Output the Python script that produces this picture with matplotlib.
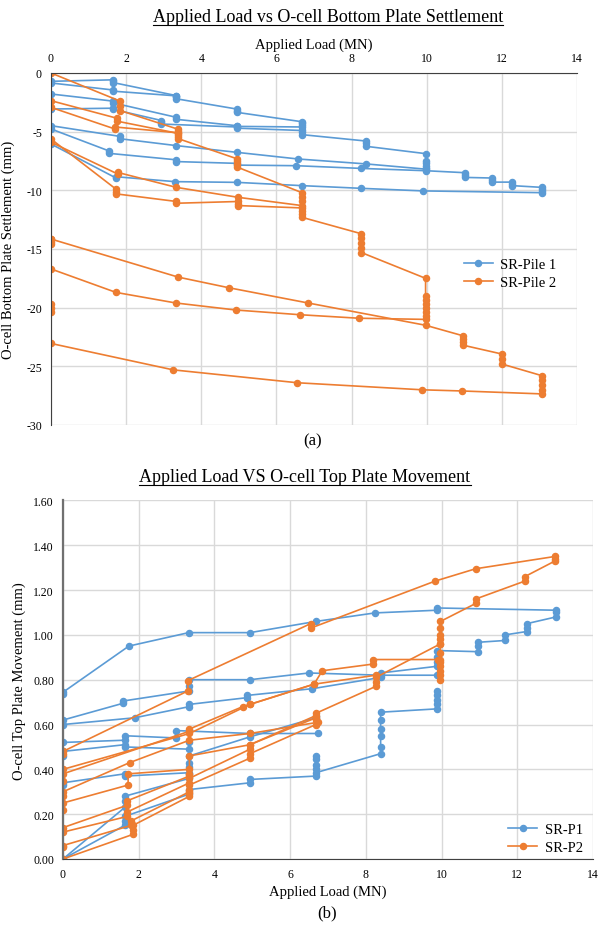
import matplotlib
matplotlib.use("Agg")
import matplotlib.pyplot as plt
from matplotlib.lines import Line2D

plt.rcParams['font.family'] = ['Liberation Serif', 'DejaVu Serif']
plt.rcParams['axes.unicode_minus'] = False

BLUE = '#5B9BD5'
ORANGE = '#ED7D31'
GRID = '#d9d9d9'

# ---- (a) bottom plate settlement, each list is one run of readings ----
p1_load_a = [
    [0, 1.66, 1.66, 1.66, 3.34, 3.34, 3.34, 4.94, 4.94, 4.94, 6.67, 6.67, 6.67],
    [0, 1.66, 1.66, 3.34],
    [0, 1.66, 1.66, 3.34, 3.34, 4.94, 4.94, 6.67],
    [0, 1.66, 1.66, 2.94, 2.94, 2.94, 4.94, 4.94, 6.67, 6.67, 6.67, 8.39, 8.39, 8.39,
     9.99, 9.99, 9.99, 9.99, 9.99],
    [0, 1.83, 1.83, 3.34, 4.94, 6.58, 8.39, 9.99],
    [0, 1.55, 1.55, 3.34, 3.34, 4.94, 4.94, 6.52, 8.25, 9.99, 11.03, 11.03, 11.03,
     11.73, 11.73, 11.73, 12.28, 12.28, 12.28, 13.08, 13.08, 13.08, 13.08,
     9.91, 8.26, 6.68, 4.94, 3.30, 1.73, 1.73, 0, 0],
]
p1_settle_a = [
    [-0.71, -0.58, -0.70, -0.82, -1.93, -2.05, -2.20, -3.07, -3.20, -3.35, -4.15, -4.30, -4.45],
    [-0.85, -1.45, -1.55, -1.95],
    [-1.79, -2.40, -2.55, -3.78, -3.95, -4.49, -4.55, -4.60],
    [-3.07, -3.00, -3.10, -4.05, -4.20, -4.35, -4.60, -4.70, -4.90, -5.05, -5.25, -5.80, -6.00, -6.25,
     -6.88, -7.50, -7.70, -7.90, -8.10],
    [-4.49, -5.40, -5.60, -6.19, -6.76, -7.33, -7.75, -8.20],
    [-4.77, -6.65, -6.85, -7.40, -7.55, -7.70, -7.85, -7.90, -8.13, -8.33, -8.50, -8.70, -8.90,
     -8.95, -9.10, -9.30, -9.30, -9.45, -9.60, -9.75, -9.90, -10.05, -10.20,
     -10.05, -9.83, -9.60, -9.32, -9.26, -8.84, -8.95, -6.05, -5.85],
]
p2_load_a = [
    [0, 1.84, 1.84, 1.84, 3.39, 3.39, 3.39, 1.70, 1.70, 0],
    [0, 1.75, 1.75, 3.39, 3.39, 3.39, 3.39, 4.94, 4.94, 4.94, 4.94, 6.68, 6.68, 6.68, 6.68,
     4.99, 3.34, 1.77, 1.77, 0],
    [0, 1.73, 1.73, 1.73, 3.34, 3.34, 4.99, 4.99, 4.99, 6.68, 6.68, 6.68, 6.68,
     8.26, 8.26, 8.26, 8.26, 8.26, 9.97, 9.97, 9.97, 9.97, 9.97, 9.97, 9.97, 9.97,
     8.19, 6.62, 4.92, 3.32, 1.73, 0, 0, 0, 0],
    [0, 3.39, 4.73, 6.84, 9.97, 10.97, 10.97, 10.97, 10.97, 12.0, 12.0, 12.0,
     13.07, 13.07, 13.07, 13.07, 13.07, 10.94, 9.88, 6.56, 3.25, 0, 0, 0, 0],
]
p2_settle_a = [
    [0, -2.40, -2.80, -3.20, -4.80, -4.95, -5.10, -4.60, -4.77, -2.93],
    [-2.36, -3.85, -4.10, -5.15, -5.30, -5.45, -5.60, -7.30, -7.50, -7.75, -8.00, -10.2, -10.55, -10.9, -11.3,
     -10.6, -9.75, -8.47, -8.60, -5.90],
    [-5.63, -9.90, -10.1, -10.3, -10.95, -11.1, -10.95, -11.15, -11.3, -11.5, -11.8, -12.05, -12.3,
     -13.7, -14.1, -14.5, -14.9, -15.3, -17.5, -19.0, -19.35, -19.7, -20.05, -20.4, -20.75, -21.0,
     -20.9, -20.6, -20.2, -19.6, -18.7, -16.7, -14.6, -14.4, -14.15],
    [-14.15, -17.4, -18.3, -19.6, -21.5, -22.4, -22.65, -22.9, -23.2, -23.95, -24.35, -24.8,
     -25.8, -26.2, -26.6, -27.0, -27.35, -27.1, -27.0, -26.4, -25.3, -23.05, -20.4, -20.05, -19.7],
]

# ---- (b) top plate movement ----
p1_load_b = [
    [0, 1.63, 1.63, 1.63, 3.34, 3.34, 4.94, 4.94, 6.68, 6.68, 6.68, 6.68, 6.68, 6.68,
     8.39, 8.39, 8.39, 8.39, 8.39, 8.39, 9.89, 9.89, 9.89, 9.89, 9.89],
    [0, 1.63, 1.63, 1.63, 3.34, 3.34, 3.34, 3.34, 3.34, 4.94, 6.68, 6.68],
    [3.34, 1.63, 1.63, 0, 0],
    [3.34, 3.34, 1.63, 1.63, 0, 0],
    [0, 1.63, 1.63, 2.99, 2.99, 4.94, 6.73],
    [0, 1.59, 1.59, 3.34, 3.34, 3.34, 4.94, 6.50, 8.39, 9.89],
    [0, 1.89, 3.34, 3.34, 4.87, 4.87, 6.59, 8.39, 8.39, 9.89, 9.89, 9.89, 9.89,
     10.97, 10.97, 10.97, 11.68, 11.68, 12.25, 12.25, 12.25, 13.02, 13.02, 13.02,
     9.88, 9.88, 8.24, 6.68, 4.94, 3.32, 1.74, 0, 0],
]
p1_move_b = [
    [0, 0.15, 0.17, 0.19, 0.29, 0.31, 0.34, 0.355, 0.37, 0.46, 0.445, 0.42, 0.40, 0.385,
     0.47, 0.50, 0.55, 0.58, 0.62, 0.655, 0.67, 0.69, 0.71, 0.73, 0.75],
    [0, 0.23, 0.26, 0.28, 0.36, 0.38, 0.41, 0.43, 0.46, 0.545, 0.63, 0.64],
    [0.385, 0.37, 0.38, 0.34, 0.33],
    [0.52, 0.49, 0.50, 0.51, 0.48, 0.46],
    [0.52, 0.53, 0.55, 0.54, 0.573, 0.56, 0.56],
    [0.62, 0.695, 0.705, 0.75, 0.77, 0.80, 0.80, 0.83, 0.82, 0.82],
    [0.60, 0.63, 0.68, 0.69, 0.72, 0.73, 0.76, 0.81, 0.83, 0.86, 0.88, 0.90, 0.93,
     0.925, 0.95, 0.967, 0.975, 1.00, 1.015, 1.03, 1.05, 1.08, 1.10, 1.11,
     1.12, 1.11, 1.098, 1.06, 1.01, 1.01, 0.95, 0.744, 0.735],
]
p2_load_b = [
    [0, 1.85, 1.85, 1.85, 3.34, 3.34, 3.34],
    [0, 0, 1.80, 1.80, 3.34, 3.34, 4.94, 4.94, 6.68, 6.68],
    [0, 1.70, 1.70, 3.34, 3.34, 4.94, 4.94, 6.68],
    [0, 1.70, 1.70, 3.34, 3.34],
    [0, 0, 1.72, 1.72, 3.34, 3.34, 4.94, 6.68, 6.68, 8.26, 8.26, 8.26, 9.97],
    [6.73, 4.94, 3.34, 1.76, 0, 0],
    [0, 0, 3.34, 3.34, 4.75, 4.94, 6.63, 6.85, 8.20, 8.20, 9.90],
    [0, 3.34, 4.94, 6.63, 8.26],
    [9.97, 9.97, 9.97, 9.97, 9.97, 9.97, 9.97, 9.97, 9.97, 9.97, 9.97, 9.97,
     10.9, 10.9, 12.2, 12.2, 13.0, 13.0, 13.0,
     10.9, 9.83, 6.54, 6.54, 3.30, 3.30, 0, 0],
]
p2_move_b = [
    [0, 0.11, 0.13, 0.15, 0.28, 0.295, 0.31],
    [0.055, 0.06, 0.15, 0.17, 0.30, 0.33, 0.45, 0.47, 0.60, 0.62],
    [0.12, 0.19, 0.21, 0.34, 0.36, 0.49, 0.51, 0.64],
    [0.14, 0.24, 0.26, 0.37, 0.38],
    [0.22, 0.25, 0.33, 0.38, 0.40, 0.46, 0.51, 0.63, 0.65, 0.77, 0.79, 0.81, 0.96],
    [0.61, 0.56, 0.53, 0.43, 0.30, 0.28],
    [0.35, 0.38, 0.57, 0.58, 0.68, 0.69, 0.78, 0.84, 0.87, 0.89, 0.89],
    [0.40, 0.56, 0.69, 0.78, 0.82],
    [0.80, 0.82, 0.84, 0.86, 0.88, 0.89, 0.92, 0.96, 0.98, 1.00, 1.03, 1.06,
     1.14, 1.16, 1.24, 1.26, 1.33, 1.34, 1.35,
     1.295, 1.24, 1.03, 1.05, 0.796, 0.75, 0.48, 0.47],
]


def draw_runs(ax, loads, values, color, label):
    for i, (x, y) in enumerate(zip(loads, values)):
        ax.plot(x, y, color=color, marker='o', markersize=4.4, linewidth=1.2,
                label=label if i == 0 else None)


def style(ax):
    ax.grid(True, color=GRID, linewidth=1.0)
    ax.set_axisbelow(True)
    ax.tick_params(length=0, labelsize=8.5, pad=6.5)


def underline(fig, txt):
    fig.canvas.draw()
    bb = txt.get_window_extent()
    inv = fig.transFigure.inverted()
    (x0, y0), (x1, _) = inv.transform([(bb.x0, bb.y0 + 1), (bb.x1, bb.y0)])
    fig.add_artist(Line2D([x0, x1], [y0, y0], transform=fig.transFigure,
                          color='black', linewidth=0.8))


fig = plt.figure(figsize=(5.98, 9.29), dpi=100)
W, H = 598, 929

# top chart
ax1 = fig.add_axes([51 / W, 1 - 426 / H, 526 / W, 352 / H])
draw_runs(ax1, p1_load_a, p1_settle_a, BLUE, 'SR-Pile 1')
draw_runs(ax1, p2_load_a, p2_settle_a, ORANGE, 'SR-Pile 2')
ax1.set_xlim(0, 14)
ax1.set_ylim(-30, 0)
ax1.set_xticks(range(0, 15, 2))
ax1.set_yticks(range(-30, 1, 5))
ax1.xaxis.tick_top()
ax1.xaxis.set_label_position('top')
style(ax1)
for s in ['right', 'bottom']:
    ax1.spines[s].set_visible(False)
ax1.spines['top'].set_color('#404040')
ax1.spines['left'].set_color('#404040')
ax1.set_xlabel('Applied Load (MN)', fontsize=10.5, labelpad=3)
ax1.set_ylabel('O-cell Bottom Plate Settlement (mm)', fontsize=10.5, labelpad=8)
ax1.legend(loc='center left', bbox_to_anchor=(0.76, 0.43), frameon=False,
           fontsize=10.5, handlelength=2.0, handletextpad=0.5, labelspacing=0.3)

t1 = fig.text(328 / W, 1 - 18 / H, 'Applied Load vs O-cell Bottom Plate Settlement',
              ha='center', va='center', fontsize=13)
fig.text(313 / W, 1 - 441 / H, '(a)', ha='center', va='center', fontsize=12)

# bottom chart
ax2 = fig.add_axes([63 / W, 1 - 860 / H, 530 / W, 358.6 / H])
draw_runs(ax2, p1_load_b, p1_move_b, BLUE, 'SR-P1')
draw_runs(ax2, p2_load_b, p2_move_b, ORANGE, 'SR-P2')
ax2.set_xlim(0, 14)
ax2.set_ylim(0, 1.6)
ax2.set_xticks(range(0, 15, 2))
ax2.set_yticks([i * 0.2 for i in range(9)])
ax2.set_yticklabels(['%.2f' % (i * 0.2) for i in range(9)])
style(ax2)
for s in ['right', 'top']:
    ax2.spines[s].set_visible(False)
ax2.spines['bottom'].set_color('#404040')
ax2.spines['left'].set_color('#707070')
ax2.spines['left'].set_linewidth(1.6)
ax2.set_xlabel('Applied Load (MN)', fontsize=10.5, labelpad=3)
ax2.set_ylabel('O-cell Top Plate Movement (mm)', fontsize=10.5, labelpad=5)
ax2.legend(loc='center left', bbox_to_anchor=(0.815, 0.057), frameon=False,
           fontsize=10.5, handlelength=2.0, handletextpad=0.5, labelspacing=0.3)

t2 = fig.text(305 / W, 1 - 478 / H, 'Applied Load VS O-cell Top Plate Movement',
              ha='center', va='center', fontsize=13)
fig.text(327 / W, 1 - 913 / H, '(b)', ha='center', va='center', fontsize=12)

underline(fig, t1)
underline(fig, t2)

fig.savefig('out.png', dpi=100)
